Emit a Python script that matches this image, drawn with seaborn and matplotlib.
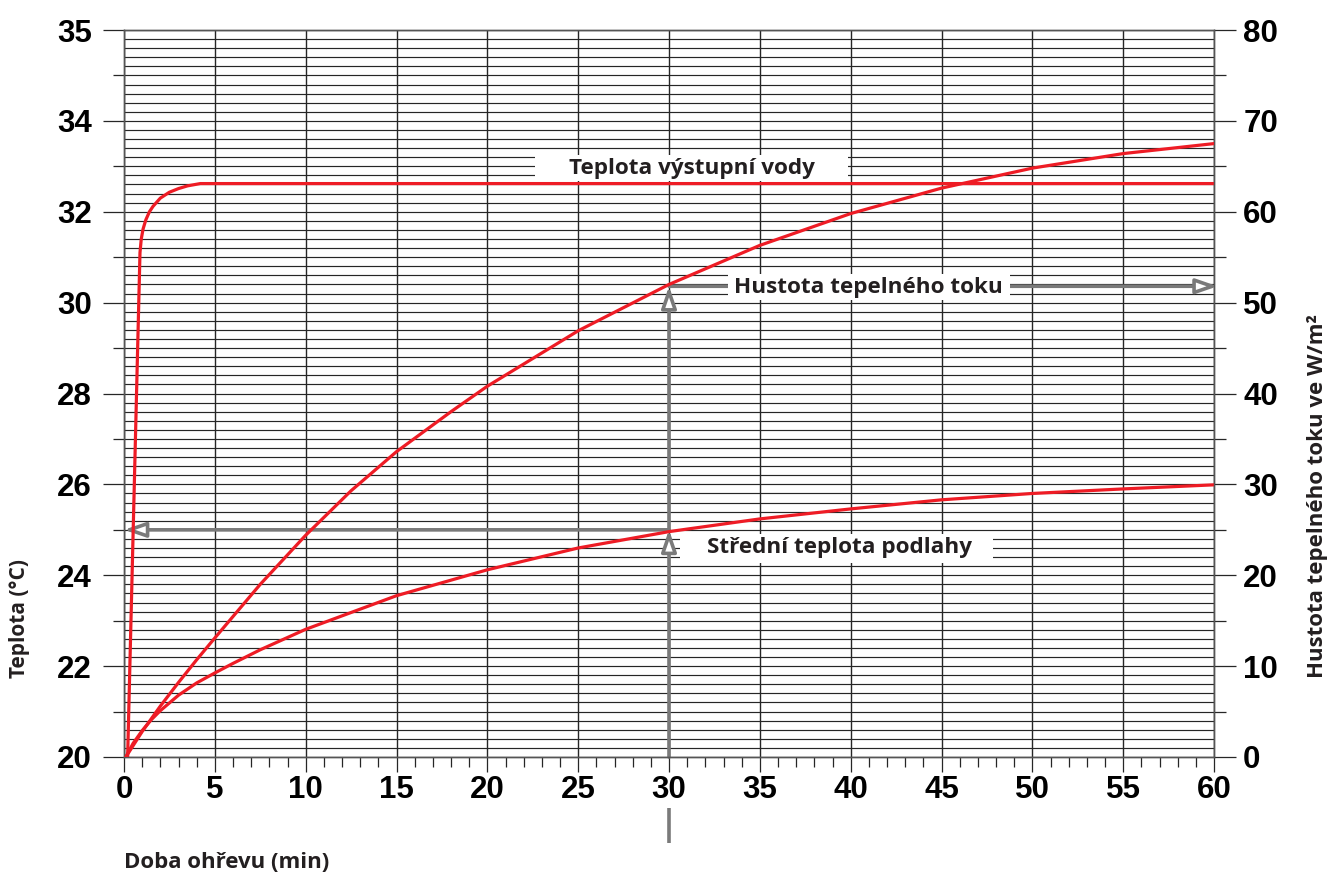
import numpy as np
import pandas as pd
import matplotlib
matplotlib.use("Agg")
import matplotlib.pyplot as plt
import matplotlib.transforms as mtransforms
from matplotlib.patches import Rectangle
import seaborn as sns

# ---------------- data ----------------
time_outlet = [0.2, 0.88, 0.95, 1.05, 1.2, 1.4, 1.6, 2.0, 2.5, 3.0, 3.5, 4.2, 60.0]
temp_outlet = [20.0, 31.1, 31.4, 31.62, 31.82, 32.0, 32.12, 32.3, 32.43, 32.51, 32.57, 32.62, 32.62]

time_flux = [0.1, 1, 2, 3, 4, 5, 7.5, 10, 12.5, 15, 18, 20, 25, 30, 35, 40, 45, 50, 55, 60]
flux = [0.0, 2.8, 5.6, 8.2, 10.7, 13.1, 19.0, 24.4, 29.3, 33.6, 38.0, 40.8, 46.9, 52.0,
        56.3, 59.8, 62.6, 64.8, 66.4, 67.5]

time_floor = [0.1, 0.5, 1, 1.5, 2, 3, 4, 5, 6, 7.5, 10, 15, 20, 25, 30, 35, 40, 45, 50, 55, 60]
temp_floor = [20.0, 20.3, 20.58, 20.82, 21.02, 21.36, 21.63, 21.85, 22.06, 22.36, 22.81,
              23.55, 24.12, 24.6, 24.96, 25.24, 25.46, 25.66, 25.8, 25.9, 25.99]

x_ticks = list(range(0, 61, 5))
left_ticks = [20, 22, 24, 26, 28, 30, 32, 34, 36]
left_tick_labels = ["20", "22", "24", "26", "28", "30", "32", "34", "35"]
right_ticks = list(range(0, 81, 10))

read_time = 30          # min
read_floor_temp = 25.0  # °C
read_flux = 51.8        # W/m2

label_outlet = "Teplota výstupní vody"
label_flux = "Hustota tepelného toku"
label_floor = "Střední teplota podlahy"
xlabel = "Doba ohřevu (min)"
ylabel_left = "Teplota (°C)"
ylabel_right = "Hustota tepelného toku ve W/m²"

# ---------------- style ----------------
sns.set_theme(style="white")
plt.rcParams["font.family"] = ["Liberation Sans", "DejaVu Sans"]
plt.rcParams["font.weight"] = "bold"

RED = "#ee1c25"
GRAY = "#7a7a7a"
GRID = "#262626"
TXT = "#231f20"
ANN_FONT = ["Open Sans", "DejaVu Sans"]

W, H = 1330, 874
fig = plt.figure(figsize=(W / 100, H / 100), dpi=100)
ax = fig.add_axes([124 / W, 1 - 757 / H, (1214 - 124) / W, (757 - 30) / H])
ax.set_xlim(0, 60)
ax.set_ylim(20, 36)
ax2 = ax.twinx()
ax2.set_ylim(0, 80)

# grid
ax.hlines(np.arange(20, 36.001, 0.2), 0, 60, colors=GRID, lw=0.85, zorder=0.5)
ax.vlines(x_ticks, 20, 36, colors=GRID, lw=1.0, zorder=0.5)

# curves
df_out = pd.DataFrame({"t": time_outlet, "v": temp_outlet})
df_floor = pd.DataFrame({"t": time_floor, "v": temp_floor})
df_flux = pd.DataFrame({"t": time_flux, "v": flux})
sns.lineplot(data=df_out, x="t", y="v", ax=ax, color=RED, lw=2.3, sort=False,
             estimator=None, zorder=3)
sns.lineplot(data=df_floor, x="t", y="v", ax=ax, color=RED, lw=2.3, sort=False,
             estimator=None, zorder=3)
sns.lineplot(data=df_flux, x="t", y="v", ax=ax2, color=RED, lw=2.3, sort=False,
             estimator=None, zorder=3)
ax.set_xlabel("")
ax.set_ylabel("")
ax2.set_ylabel("")
ax.set_xlim(0, 60)
ax.set_ylim(20, 36)
ax2.set_ylim(0, 80)

# arrows
arrow_kw = dict(arrowstyle="-|>,head_length=1.3,head_width=0.45", lw=2.6, ec=GRAY,
                fc="white", shrinkA=0, shrinkB=0, mutation_scale=10)
ax.annotate("", xy=(read_time, read_floor_temp), xytext=(read_time, 20),
            arrowprops=arrow_kw, zorder=2, annotation_clip=False)
ax.annotate("", xy=(read_time, read_flux), xycoords=ax2.transData,
            xytext=(read_time, read_floor_temp), textcoords=ax.transData,
            arrowprops=arrow_kw, zorder=2)
ax.annotate("", xy=(0, read_floor_temp), xytext=(read_time, read_floor_temp),
            arrowprops=arrow_kw, zorder=2, annotation_clip=False)
ax2.annotate("", xy=(60.2, read_flux), xytext=(read_time, read_flux),
             arrowprops=arrow_kw, zorder=2, annotation_clip=False)
blend = mtransforms.blended_transform_factory(ax.transData, ax.transAxes)
ax.plot([read_time, read_time], [-0.0702, -0.1185], transform=blend, color=GRAY,
        lw=2.6, clip_on=False, solid_capstyle="butt")

# label boxes
ANN_SIZE = 16.2
ax.add_patch(Rectangle((22.6, 32.68), 39.85 - 22.6, 33.24 - 32.68, fc="white",
                       ec="none", zorder=1.6))
ax.text(31.27, 32.96, label_outlet, ha="center", va="center", fontsize=ANN_SIZE,
        fontweight="bold", family=ANN_FONT, color=TXT, zorder=4)
ax2.add_patch(Rectangle((33.25, 50.25), 48.77 - 33.25, 53.1 - 50.25, fc="white",
                        ec="none", zorder=2.5))
ax2.text(40.95, 51.7, label_flux, ha="center", va="center", fontsize=ANN_SIZE,
         fontweight="bold", family=ANN_FONT, color=TXT, zorder=4)
ax.add_patch(Rectangle((30.6, 24.28), 47.83 - 30.6, 24.91 - 24.28, fc="white",
                       ec="none", zorder=2.5))
ax.text(39.4, 24.62, label_floor, ha="center", va="center", fontsize=ANN_SIZE,
        fontweight="bold", family=ANN_FONT, color=TXT, zorder=4)

# ticks
ax.set_xticks(x_ticks)
ax.set_xticks(range(0, 61), minor=True)
ax.set_yticks(left_ticks)
ax.set_yticklabels(left_tick_labels)
ax.set_yticks(range(21, 36, 2), minor=True)
ax2.set_yticks(right_ticks)
ax2.set_yticks(range(5, 80, 10), minor=True)
ax.tick_params(axis="x", which="major", length=11, width=0.9, pad=2, labelsize=22.5,
               color=GRID, labelcolor="black", bottom=True)
ax.tick_params(axis="x", which="minor", length=7, width=0.9, color=GRID, bottom=True)
ax.tick_params(axis="y", which="major", length=15, width=0.9, pad=8, labelsize=22.5,
               color=GRID, labelcolor="black", left=True)
ax.tick_params(axis="y", which="minor", length=8, width=0.9, color=GRID, left=True)
ax2.tick_params(axis="y", which="major", length=16, width=0.9, pad=5, labelsize=22.5,
                color=GRID, labelcolor="black", right=True)
ax2.tick_params(axis="y", which="minor", length=8.5, width=0.9, color=GRID, right=True)

for a in (ax, ax2):
    for s in a.spines.values():
        s.set_color("#555555")
        s.set_linewidth(1.0)

# axis labels
fig.text(124 / W, 1 - 862 / H, xlabel, ha="left", va="center", fontsize=16,
         fontweight="bold", family=ANN_FONT, color=TXT)
fig.text(20 / W, 1 - 678 / H, ylabel_left, ha="center", va="bottom", rotation=90,
         fontsize=15, fontweight="bold", family=ANN_FONT, color=TXT)
fig.text(1318 / W, 1 - 678 / H, ylabel_right, ha="center", va="bottom", rotation=90,
         fontsize=16, fontweight="bold", family=ANN_FONT, color=TXT)

fig.savefig("out.png", dpi=100)
